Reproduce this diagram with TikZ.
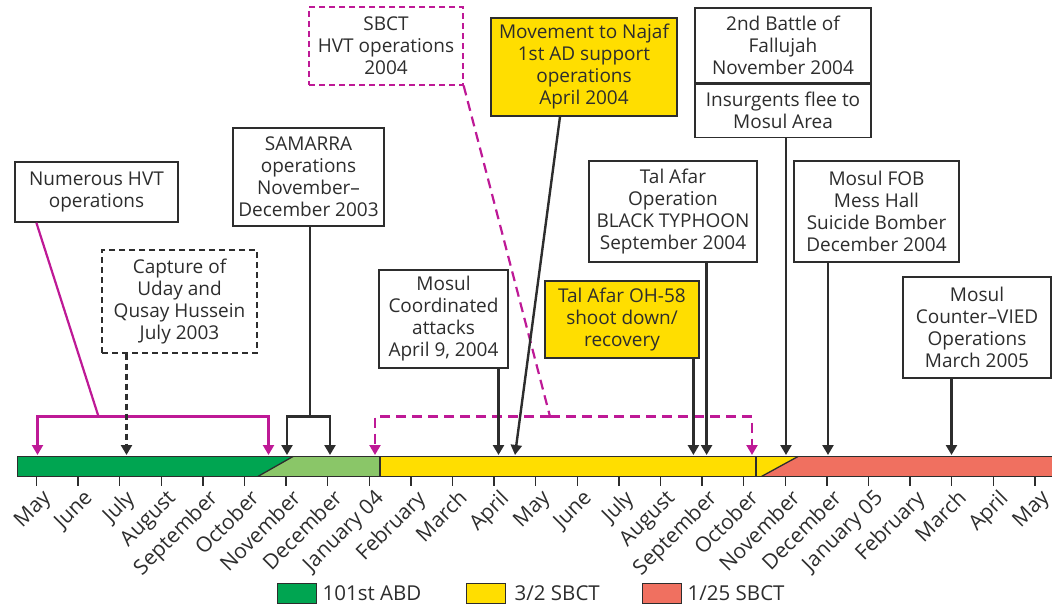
\documentclass[tikz,border=0pt]{standalone}
\usepackage{fontspec}
\setmainfont{Open Sans}
\usetikzlibrary{arrows.meta,positioning}
\definecolor{greenABD}{RGB}{0,165,81}
\definecolor{greenLight}{RGB}{138,198,104}
\definecolor{yellowSBCT}{RGB}{255,222,0}
\definecolor{redSBCT}{RGB}{240,112,96}
\definecolor{magentaHVT}{RGB}{190,25,150}
\definecolor{greyLine}{RGB}{45,45,45}

\begin{document}
\begin{tikzpicture}[x=1pt, y=-1pt,
  every node/.style={text=greyLine},
  evbox/.style={draw=greyLine, line width=1.3pt, fill=white, align=center,
                font=\fontsize{19}{22}\selectfont, inner sep=0pt},
  dashbox/.style={evbox, dash pattern=on 6pt off 4pt},
  monthlbl/.style={font=\fontsize{21}{22}\selectfont, rotate=45, anchor=north east, inner sep=0pt},
  legbox/.style={draw=greyLine, line width=1pt, minimum width=39pt, minimum height=20pt, inner sep=0pt},
  legtxt/.style={font=\fontsize{20.5}{22}\selectfont, inner sep=0pt},
  conn/.style={greyLine, line width=2.4pt},
  connarrow/.style={conn, -{Triangle[length=10pt,width=11pt]}},
  magconn/.style={magentaHVT, line width=2.2pt},
  magarrow/.style={magconn, -{Triangle[length=10pt,width=11pt]}},
  magdash/.style={magconn, dash pattern=on 10pt off 6pt},
  ]

\useasboundingbox (0,0) rectangle (1052,604);

% timeline bar
\fill[greenABD] (17.6,456.5) -- (293,456.5) -- (258,476.4) -- (17.6,476.4) -- cycle;
\fill[greenLight] (293,456.5) -- (380,456.5) -- (380,476.4) -- (258,476.4) -- cycle;
\fill[yellowSBCT] (380,456.5) -- (798,456.5) -- (761.6,476.4) -- (380,476.4) -- cycle;
\fill[redSBCT] (798,456.5) -- (1060,456.5) -- (1060,476.4) -- (761.6,476.4) -- cycle;
\draw[greyLine, line width=1.3pt] (17.6,456.5) rectangle (1060,476.4);
\draw[greyLine, line width=1.3pt] (258,476.4) -- (293,456.5);
\draw[greyLine, line width=1.3pt] (761.6,476.4) -- (798,456.5);
\draw[greyLine, line width=1.3pt] (380,456.5) -- (380,476.4);
\draw[greyLine, line width=1.3pt] (756,456.5) -- (756,476.4);

% months
\foreach \m [count=\i from 0] in {May,June,July,August,September,October,November,December,January 04,February,March,April,May,June,July,August,September,October,November,December,January 05,February,March,April,May}{
  \draw[greyLine, line width=1.4pt] (36.5+41.6*\i,476.4) -- (36.5+41.6*\i,486);
  \node[monthlbl] (m\i) at (41+41.6*\i,488) {\m};
}

% arrow ends on the bar
\coordinate (hvtL) at (37.5,455);
\coordinate (hvtR) at (268.5,455);
\coordinate (jul03) at (126.5,455);
\coordinate (samL) at (287,455);
\coordinate (samR) at (330,455);
\coordinate (sbctL) at (375,455);
\coordinate (sbctR) at (752,455);
\coordinate (apr04) at (498.5,455);
\coordinate (najafEnd) at (515,455);
\coordinate (sep04a) at (693.4,455);
\coordinate (sep04b) at (706.6,455);
\coordinate (nov04) at (786,455);
\coordinate (dec04) at (828,455);
\coordinate (mar05) at (951.5,455);

% knees of the brackets
\coordinate (hvtKnee) at (98.5,416.5);
\coordinate (samKnee) at (310,416.5);
\coordinate (sbctKnee) at (550,416.5);

% event boxes
\node[evbox, minimum width=163pt, minimum height=60pt] (hvt) at (96.5,192) {Numerous HVT\\operations};
\node[dashbox, minimum width=155pt, minimum height=103pt] (capture) at (179.5,301.5) {Capture of\\Uday and\\Qusay Hussein\\July 2003};
\node[evbox, minimum width=151pt, minimum height=98pt] (samarra) at (308.5,177) {SAMARRA\\operations\\November--\\December 2003};
\node[dashbox, draw=magentaHVT, minimum width=154pt, minimum height=78pt] (sbct) at (386,46) {SBCT\\HVT operations\\2004};
\node[evbox, fill=yellowSBCT, minimum width=186pt, minimum height=98pt] (najaf) at (584,67) {Movement to Najaf\\1st AD support\\operations\\April 2004};
\node[evbox, minimum width=129pt, minimum height=98pt] (mosul) at (443.5,319) {Mosul\\Coordinated\\attacks\\April 9, 2004};
\node[evbox, minimum width=168pt, minimum height=101pt] (typhoon) at (673,211.5) {Tal Afar\\Operation\\BLACK TYPHOON\\September 2004};
\node[evbox, fill=yellowSBCT, minimum width=154pt, minimum height=77pt] (oh58) at (622,319.5) {Tal Afar OH-58\\shoot down/\\recovery};
\node[evbox, minimum width=176pt, minimum height=75pt] (fallujah) at (783,45.5) {2nd Battle of\\Fallujah\\November 2004};
\node[evbox, minimum width=176pt, minimum height=53pt, below=0pt of fallujah] (flee) {Insurgents flee to\\Mosul Area};
\node[evbox, minimum width=165pt, minimum height=101pt] (fob) at (876.5,211.5) {Mosul FOB\\Mess Hall\\Suicide Bomber\\December 2004};
\node[evbox, minimum width=148pt, minimum height=101pt] (vied) at (977,327.5) {Mosul\\Counter--VIED\\Operations\\March 2005};

% connectors
\draw[magconn] ([xshift=22pt]hvt.south west) -- (hvtKnee);
\draw[magarrow] (hvtKnee) -| (hvtL);
\draw[magarrow] (hvtKnee) -| (hvtR);
\draw[connarrow, dash pattern=on 6pt off 4pt] (capture.south -| jul03) -- (jul03);
\draw[conn] (samarra.south -| samKnee) -- (samKnee);
\draw[connarrow] (samKnee) -| (samL);
\draw[connarrow] (samKnee) -| (samR);
\draw[magdash] (sbct.south east) -- (sbctKnee);
\draw[magarrow, dash pattern=on 10pt off 6pt] (sbctKnee) -| (sbctL);
\draw[magarrow, dash pattern=on 10pt off 6pt] (sbctKnee) -| (sbctR);
\draw[connarrow] ([xshift=-24pt]najaf.south) -- (najafEnd);
\draw[connarrow] (mosul.south -| apr04) -- (apr04);
\draw[connarrow] (oh58.south -| sep04a) -- (sep04a);
\draw[connarrow] (typhoon.south -| sep04b) -- (sep04b);
\draw[connarrow] (flee.south -| nov04) -- (nov04);
\draw[connarrow] (fob.south -| dec04) -- (dec04);
\draw[connarrow] (vied.south -| mar05) -- (mar05);

% legend
\node[legbox, fill=greenABD] (legABD) at (296.5,593) {};
\node[legtxt, right=6pt of legABD] (legABDtxt) {101st ABD};
\node[legbox, fill=yellowSBCT] (legSBCT) at (485.5,593) {};
\node[legtxt, right=9pt of legSBCT] (legSBCTtxt) {3/2 SBCT};
\node[legbox, fill=redSBCT] (legRed) at (661.5,593) {};
\node[legtxt, right=6pt of legRed] (legRedtxt) {1/25 SBCT};

\end{tikzpicture}
\end{document}
